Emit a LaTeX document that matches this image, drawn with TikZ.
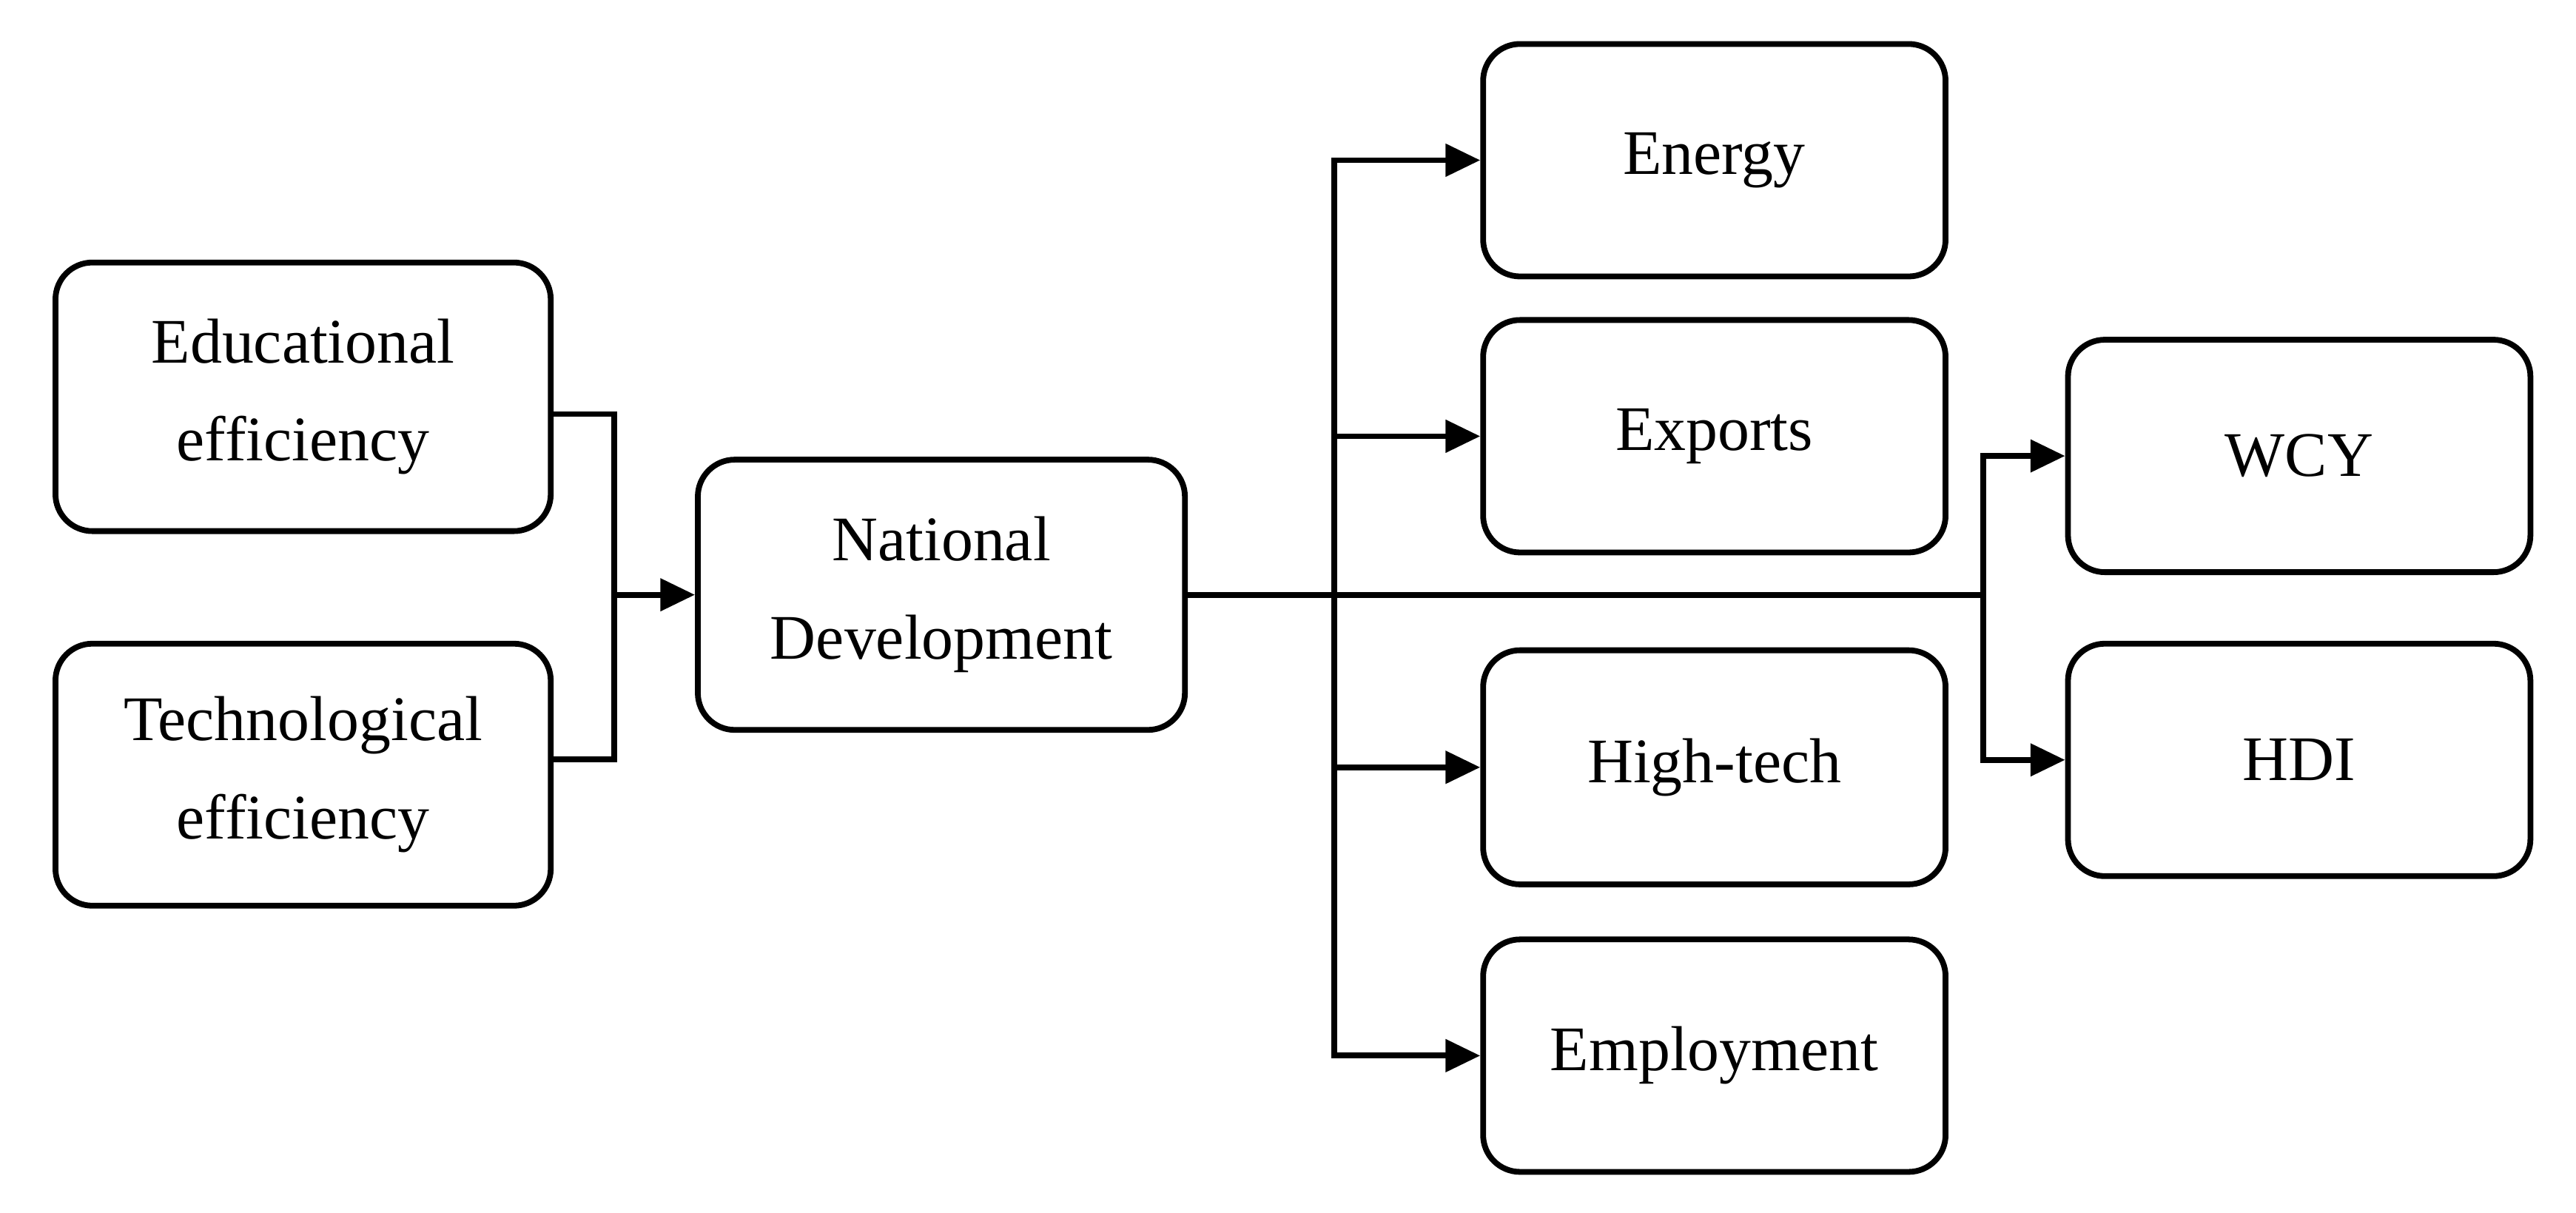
\documentclass[tikz,border=0pt]{standalone}
\usepackage{fontspec}
\setmainfont{Liberation Serif}
\usetikzlibrary{arrows.meta}
\begin{document}
\begin{tikzpicture}[x=0.02cm,y=-0.02cm,
  box/.style={draw,line width=2pt,rounded corners=0.45cm,align=center,font=\fontsize{22}{34}\selectfont},
  conn/.style={line width=2pt},
  arr/.style={line width=2pt,-{Triangle[length=12pt,width=11pt]}}]
\useasboundingbox (0,0) rectangle (1568,738);
\newcommand\bx[6]{\node[box,minimum width=#4*0.02cm-2pt,minimum height=#5*0.02cm-2pt] (#1) at (#2,#3) {#6};}
\bx{edu}{184.5}{241.5}{305}{167}{Educational\\efficiency}
\bx{tech}{184.5}{471.5}{305}{163}{Technological\\efficiency}
\bx{nat}{573}{362}{300}{168}{National\\Development}
\bx{en}{1043.5}{97.5}{285}{145}{Energy}
\bx{ex}{1043.5}{265.5}{285}{145}{Exports}
\bx{hi}{1043.5}{467}{285}{146}{High-tech}
\bx{em}{1043.5}{642.5}{285}{145}{Employment}
\bx{wcy}{1399.5}{277.5}{285}{145}{WCY}
\bx{hdi}{1399.5}{462.5}{285}{145}{HDI}
\coordinate (j1) at (374,362);
\coordinate (j2) at (812,362);
\coordinate (j3) at (1207,362);
\draw[conn] (edu.east|-0,252) -| (j1) |- (tech.east|-0,462);
\draw[arr] (j1) -- (nat.west);
\draw[conn] (nat.east) -- (j3);
\draw[arr] (j2) |- (en.west);
\draw[arr] (j2) |- (ex.west);
\draw[arr] (j2) |- (hi.west);
\draw[arr] (j2) |- (em.west);
\draw[arr] (j3) |- (wcy.west);
\draw[arr] (j3) |- (hdi.west);
\end{tikzpicture}
\end{document}
